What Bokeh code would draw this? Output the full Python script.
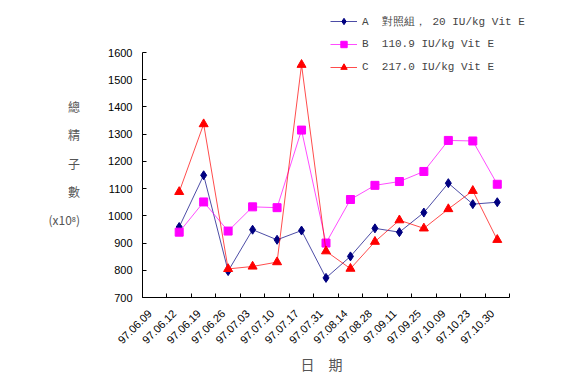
import math
from bokeh.plotting import figure
from bokeh.models import FixedTicker, Legend, LegendItem, Range1d, Title
from bokeh.embed import file_html
from bokeh.resources import INLINE

NaN = float("nan")

dates = ["97.06.09", "97.06.12", "97.06.19", "97.06.26", "97.07.03",
         "97.07.10", "97.07.17", "97.07.31", "97.08.14", "97.08.28",
         "97.09.11", "97.09.25", "97.10.09", "97.10.23", "97.10.30"]
series_a = [NaN, 959, 1149, 797, 949, 912, 946, 772, 851, 954, 940, 1012, 1120, 1043, 1050]
series_b = [NaN, 940, 1051, 944, 1033, 1030, 1315, 900, 1060, 1112, 1126, 1163, 1277, 1275, 1116]
series_c = [NaN, 1088, 1337, 805, 814, 830, 1555, 870, 806, 905, 984, 954, 1025, 1092, 912]
names = ["A  對照組， 20 IU/kg Vit E", "B  110.9 IU/kg Vit E", "C  217.0 IU/kg Vit E"]
y_min, y_max = 700, 1600
y_ticks = list(range(y_min, y_max + 1, 100))
y_title = "\n總\n精\n子\n數\n(x10⁸)"
x_title = "日　期"

n = len(dates)
xs = [i + 0.5 for i in range(n)]
label_pos = [i + 0.3 for i in range(n)]

# The frame covers the area of the legend too (legends are clipped to the
# frame); the axes themselves are bounded to the real data area.
axis_h = 245
axis_w = 367
frame_h = 297
frame_w = 446
y_top = y_min + frame_h * (y_max - y_min) / axis_h
x_end = n * frame_w / axis_w

p = figure(output_backend="svg", toolbar_location=None,
           x_range=Range1d(0, x_end), y_range=Range1d(y_min, y_top),
           frame_width=frame_w, frame_height=frame_h,
           min_border_left=142, min_border_right=0, min_border_top=0, min_border_bottom=85)
p.outline_line_color = None
p.xgrid.visible = False
p.ygrid.visible = False

# x axis
p.xaxis.bounds = (0, n)
p.xaxis.ticker = FixedTicker(ticks=label_pos, minor_ticks=list(range(n + 1)))
p.xaxis.major_label_overrides = {x: d for x, d in zip(label_pos, dates)}
p.xaxis.major_label_orientation = math.pi / 4
p.xaxis.major_tick_in = 0
p.xaxis.major_tick_out = 0
p.xaxis.minor_tick_in = 4
p.xaxis.minor_tick_out = 0
p.xaxis.major_label_text_font = "Liberation Sans"
p.xaxis.major_label_text_font_size = "11px"
p.xaxis.major_label_text_color = "black"
p.xaxis.major_label_standoff = 14
p.xaxis.axis_line_color = "black"

p.add_layout(Title(text=x_title, align="left", offset=158, standoff=2,
                   text_font="Noto Sans CJK TC", text_font_size="14px",
                   text_font_style="normal", text_color="#555555"), "below")

# y axis
p.yaxis.bounds = (y_min, y_max)
p.yaxis.ticker = FixedTicker(ticks=y_ticks)
p.yaxis.major_tick_in = 4
p.yaxis.major_tick_out = 0
p.yaxis.minor_tick_line_color = None
p.yaxis.major_label_text_font = "Liberation Sans"
p.yaxis.major_label_text_font_size = "11px"
p.yaxis.major_label_text_color = "black"
p.yaxis.major_label_standoff = 10
p.yaxis.axis_line_color = "black"
p.yaxis.axis_label = y_title
p.yaxis.axis_label_orientation = "horizontal"
p.yaxis.axis_label_text_font = "Noto Sans CJK TC"
p.yaxis.axis_label_text_font_size = "12px"
p.yaxis.axis_label_text_font_style = "normal"
p.yaxis.axis_label_text_color = "#555555"
p.yaxis.axis_label_text_line_height = 1.65
p.yaxis.axis_label_standoff = 25

colors = ["#000080", "#FF00FF", "#FF0000"]
markers = ["diamond", "square", "triangle"]
sizes = [9, 8, 9]
items = []
for ys, c, m, s, nm in zip([series_a, series_b, series_c], colors, markers, sizes, names):
    r1 = p.line(xs, ys, line_color=c, line_width=1, line_alpha=0.7)
    r2 = p.scatter(xs, ys, marker=m, size=s, fill_color=c, line_color=c)
    items.append(LegendItem(label=nm, renderers=[r1, r2]))

legend = Legend(items=items, location=(188, 222), border_line_color=None,
                background_fill_alpha=0, padding=0, margin=0, spacing=7,
                glyph_width=27, glyph_height=16, label_height=16,
                label_text_font="Liberation Mono", label_text_font_size="11px",
                label_standoff=5)
p.add_layout(legend, "center")

open("out.html", "w").write(file_html(p, INLINE))
